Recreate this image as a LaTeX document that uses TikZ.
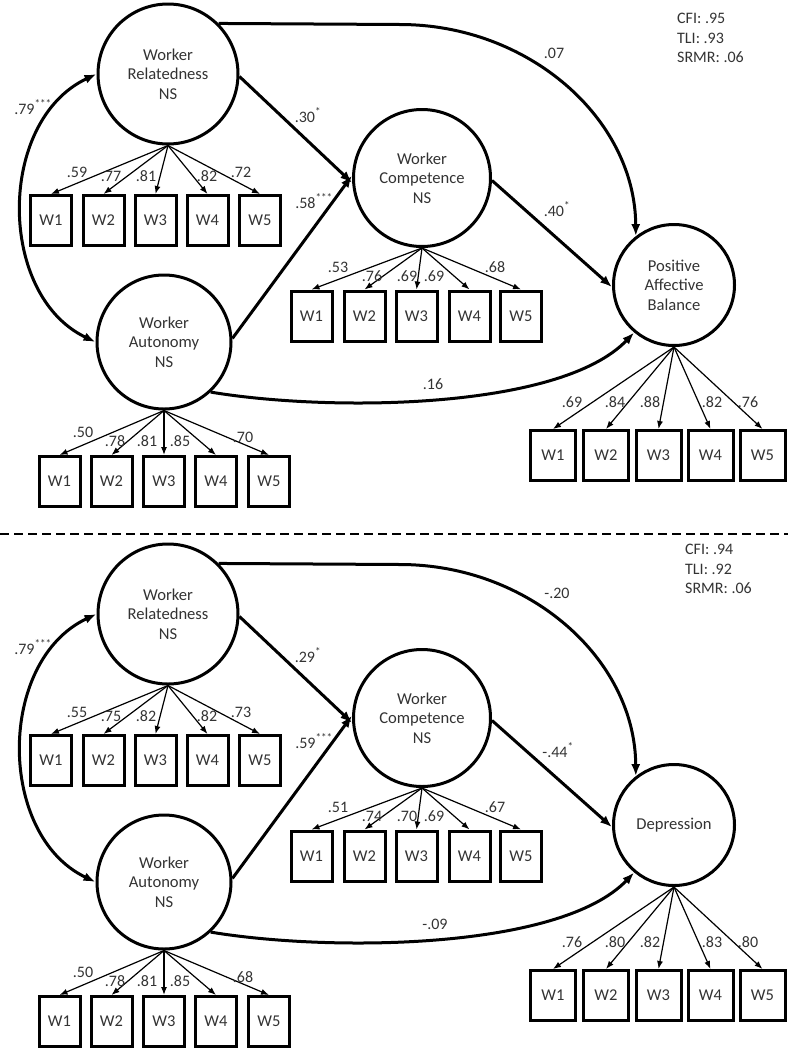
\documentclass[tikz,border=0pt]{standalone}
\usepackage{fontspec}
\setmainfont{Carlito}
\usetikzlibrary{arrows.meta}
\begin{document}
\begin{tikzpicture}[x=1pt,y=-1pt,
  lat/.style={circle,draw,line width=3pt,minimum size=140pt,inner sep=0pt,align=center,
    font=\fontsize{16.6}{19.5}\selectfont,text=black!80},
  ind/.style={draw,line width=3pt,minimum width=41pt,minimum height=50pt,inner sep=0pt,
    font=\fontsize{16.5}{18}\selectfont,text=black!80},
  load/.style={line width=1.2pt,-{Latex[length=8pt,width=6pt]}},
  regr/.style={line width=3pt,-{Latex[length=12pt,width=9pt]}},
  corr/.style={line width=3pt,{Latex[length=12pt,width=9pt]}-{Latex[length=12pt,width=9pt]}},
  lab/.style={font=\fontsize{16}{18}\selectfont,text=black!80,inner sep=0pt},
  fitlab/.style={font=\fontsize{16}{18}\selectfont,text=black!80,inner sep=0pt,anchor=base west}
]
\useasboundingbox (0,0) rectangle (788,1050);

% ================= TOP PANEL =================
\node[lat] (rel) at (168,74) {Worker\\Relatedness\\NS};
\node[lat,minimum size=134pt] (aut) at (164,342) {Worker\\Autonomy\\NS};
\node[lat,minimum size=137pt] (com) at (422,178) {Worker\\Competence\\NS};
\node[lat,minimum size=121pt] (pab) at (674,285) {Positive\\Affective\\Balance};

\foreach \i/\x in {1/51,2/103.5,3/155.5,4/207.5,5/260}
  \node[ind] (r\i) at (\x,220.5) {W\i};
\foreach \i/\x in {1/59.5,2/111.5,3/164,4/216,5/269}
  \node[ind] (a\i) at (\x,481.5) {W\i};
\foreach \i/\x in {1/311.5,2/364.5,3/416.5,4/469.5,5/521}
  \node[ind] (c\i) at (\x,316) {W\i};
\foreach \i/\x in {1/553,2/606,3/658.5,4/710.5,5/762.5}
  \node[ind,minimum width=45pt] (p\i) at (\x,455.5) {W\i};

\foreach \i in {1,...,5} {
  \draw[load] (rel.south) -- (r\i.north);
  \draw[load] (aut.south) -- (a\i.north);
  \draw[load] (com.south) -- (c\i.north);
  \draw[load] (pab.south) -- (p\i.north);
}

\foreach \v/\x/\y [count=\k] in {.59/77/172,.77/111/176,.81/146/176,.82/207/176,.72/241/172}
  \node[lab] (lr\k) at (\x,\y) {\v};
\foreach \v/\x/\y [count=\k] in {.50/83/432,.78/115/441,.81/147/441,.85/180/441,.70/243/437}
  \node[lab] (la\k) at (\x,\y) {\v};
\foreach \v/\x/\y [count=\k] in {.53/338/267,.76/372/276,.69/407/276,.69/434/276,.68/495/267}
  \node[lab] (lc\k) at (\x,\y) {\v};
\foreach \v/\x/\y [count=\k] in {.69/572/402,.84/615/402,.88/650/402,.82/712/402,.76/748/402}
  \node[lab] (lp\k) at (\x,\y) {\v};

\draw[regr] (rel.-2) -- (com.184);
\draw[regr] (aut.3) -- (com.178);
\draw[regr] (com.-2) -- (pab.182);
\draw[regr] (rel.45) -- (400,24.5) .. controls (528,24.5) and (635,118) .. (pab.128);
\draw[regr] (aut.-47) .. controls (330,412) and (560,410) .. (pab.230);
\draw[corr] (aut.west) .. controls (-3,295) and (-3,121) .. (rel.west);

\node[lab] (k1) at (33,107) {.79\textsuperscript{***}};
\node[lab] (k2) at (308,115) {.30\textsuperscript{*}};
\node[lab] (k3) at (314,201) {.58\textsuperscript{***}};
\node[lab] (k4) at (557,209) {.40\textsuperscript{*}};
\node[lab] (k5) at (554,53) {.07};
\node[lab] (k6) at (433,384) {.16};

\node[fitlab] (f1) at (677,23) {CFI: .95};
\node[fitlab] (f2) at (677,43) {TLI: .93};
\node[fitlab] (f3) at (677,62) {SRMR: .06};

% ================= SEPARATOR =================
\draw[line width=2pt,dash pattern=on 9pt off 5pt] (0,534) -- (788,534);

% ================= BOTTOM PANEL =================
\begin{scope}[shift={(0,540)}]
\node[lat] (relB) at (168,74) {Worker\\Relatedness\\NS};
\node[lat,minimum size=134pt] (autB) at (164,342) {Worker\\Autonomy\\NS};
\node[lat,minimum size=137pt] (comB) at (422,178) {Worker\\Competence\\NS};
\node[lat,minimum size=121pt] (dep) at (674,285) {Depression};

\foreach \i/\x in {1/51,2/103.5,3/155.5,4/207.5,5/260}
  \node[ind] (rB\i) at (\x,220.5) {W\i};
\foreach \i/\x in {1/59.5,2/111.5,3/164,4/216,5/269}
  \node[ind] (aB\i) at (\x,481.5) {W\i};
\foreach \i/\x in {1/311.5,2/364.5,3/416.5,4/469.5,5/521}
  \node[ind] (cB\i) at (\x,316) {W\i};
\foreach \i/\x in {1/553,2/606,3/658.5,4/710.5,5/762.5}
  \node[ind,minimum width=45pt] (dB\i) at (\x,455.5) {W\i};

\foreach \i in {1,...,5} {
  \draw[load] (relB.south) -- (rB\i.north);
  \draw[load] (autB.south) -- (aB\i.north);
  \draw[load] (comB.south) -- (cB\i.north);
  \draw[load] (dep.south) -- (dB\i.north);
}

\foreach \v/\x/\y [count=\k] in {.55/77/172,.75/111/176,.82/146/176,.82/207/176,.73/241/172}
  \node[lab] (mr\k) at (\x,\y) {\v};
\foreach \v/\x/\y [count=\k] in {.50/83/432,.78/115/441,.81/147/441,.85/180/441,.68/243/437}
  \node[lab] (ma\k) at (\x,\y) {\v};
\foreach \v/\x/\y [count=\k] in {.51/338/267,.74/372/276,.70/407/276,.69/434/276,.67/495/267}
  \node[lab] (mc\k) at (\x,\y) {\v};
\foreach \v/\x/\y [count=\k] in {.76/572/402,.80/615/402,.82/650/402,.83/712/402,.80/748/402}
  \node[lab] (md\k) at (\x,\y) {\v};

\draw[regr] (relB.-2) -- (comB.184);
\draw[regr] (autB.3) -- (comB.178);
\draw[regr] (comB.-2) -- (dep.182);
\draw[regr] (relB.45) -- (400,24.5) .. controls (528,24.5) and (635,118) .. (dep.128);
\draw[regr] (autB.-47) .. controls (330,412) and (560,410) .. (dep.230);
\draw[corr] (autB.west) .. controls (-3,295) and (-3,121) .. (relB.west);

\node[lab] (n1) at (33,107) {.79\textsuperscript{***}};
\node[lab] (n2) at (308,115) {.29\textsuperscript{*}};
\node[lab] (n3) at (314,201) {.59\textsuperscript{***}};
\node[lab] (n4) at (558,210) {-.44\textsuperscript{*}};
\node[lab] (n5) at (557,53) {-.20};
\node[lab] (n6) at (435,384) {-.09};

\node[fitlab] (g1) at (685,14) {CFI: .94};
\node[fitlab] (g2) at (685,34) {TLI: .92};
\node[fitlab] (g3) at (685,53) {SRMR: .06};
\end{scope}
\end{tikzpicture}
\end{document}
